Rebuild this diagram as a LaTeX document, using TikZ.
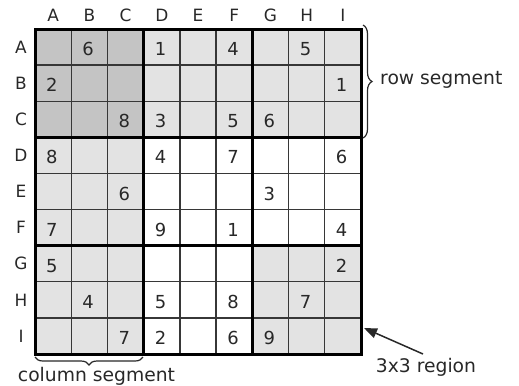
\documentclass[tikz,border=0pt]{standalone}
\usepackage{fontspec}
\setmainfont{DejaVu Sans}
\usetikzlibrary{decorations.pathreplacing,arrows.meta}
\definecolor{regdark}{RGB}{196,196,196}
\definecolor{seglight}{RGB}{227,227,227}
\definecolor{thinline}{RGB}{55,55,55}
\definecolor{txtcol}{RGB}{40,40,40}
\begin{document}
\begin{tikzpicture}[x=1bp,y=-1bp,
  digit/.style={inner sep=0pt,font=\fontsize{18}{21}\selectfont,text=txtcol},
  header/.style={inner sep=0pt,font=\fontsize{17}{20}\selectfont,text=txtcol},
  lbl/.style={inner sep=0pt,font=\fontsize{18.8}{22}\selectfont,text=txtcol},
  thingrid/.style={draw=thinline,line width=1.3bp},
  thickgrid/.style={draw=black,line width=2.6bp},
  bracestyle/.style={draw=txtcol,line width=1.2bp,decorate},
]
\useasboundingbox (0,0) rectangle (519,385);
\def\cw{36.222}
\def\ch{36.111}
% fills
\fill[seglight] (35,29) rectangle (361,137.33);
\fill[seglight] (35,29) rectangle (143.67,354);
\fill[seglight] (252.33,245.67) rectangle (361,354);
\fill[regdark] (35,29) rectangle (143.67,137.33);
% thin lines
\foreach \i in {1,2,4,5,7,8}{
  \draw[thingrid] ({35+\i*\cw},29) -- ({35+\i*\cw},354);
  \draw[thingrid] (35,{29+\i*\ch}) -- (361,{29+\i*\ch});
}
% thick lines
\foreach \i in {3,6}{
  \draw[thickgrid] ({35+\i*\cw},29) -- ({35+\i*\cw},354);
  \draw[thickgrid] (35,{29+\i*\ch}) -- (361,{29+\i*\ch});
}
\draw[draw=black,line width=3bp] (35,29) rectangle (361,354);
% headers
\foreach \l [count=\k] in {A,B,C,D,E,F,G,H,I}{
  \node[header] (col-\l) at ({35+(\k-0.5)*\cw},15) {\l};
  \node[header] (row-\l) at (21,{29+(\k-0.5)*\ch}) {\l};
}
% digits
\foreach \r/\c/\d in {1/2/6,1/4/1,1/6/4,1/8/5,
  2/1/2,2/9/1,
  3/3/8,3/4/3,3/6/5,3/7/6,
  4/1/8,4/4/4,4/6/7,4/9/6,
  5/3/6,5/7/3,
  6/1/7,6/4/9,6/6/1,6/9/4,
  7/1/5,7/9/2,
  8/2/4,8/4/5,8/6/8,8/8/7,
  9/3/7,9/4/2,9/6/6,9/7/9}{
  \node[digit] (cell-\r-\c) at ({35+(\c-0.5)*\cw-1.2},{29+(\r-0.5)*\ch+2}) {\d};
}
% row segment brace
\coordinate (rbtop) at (363,25);
\coordinate (rbbot) at (363,138);
\draw[bracestyle,decoration={brace,amplitude=9bp}] (rbtop) -- (rbbot);
\node[lbl,anchor=west] (rowlbl) at (380,80) {row segment};
% column segment brace
\coordinate (cbright) at (143,357);
\coordinate (cbleft) at (35,357);
\draw[bracestyle,decoration={brace,amplitude=8bp}] (cbright) -- (cbleft);
\node[lbl] (collbl) at (96.5,376) {column segment};
% 3x3 region arrow
\node[lbl] (reglbl) at (426,367) {3x3 region};
\coordinate (arrtail) at (423,354);
\coordinate (arrtip) at (364,328);
\draw[draw=txtcol,line width=1.5bp,-{Triangle[length=13bp,width=10bp]}] (arrtail) -- (arrtip);
\end{tikzpicture}
\end{document}
